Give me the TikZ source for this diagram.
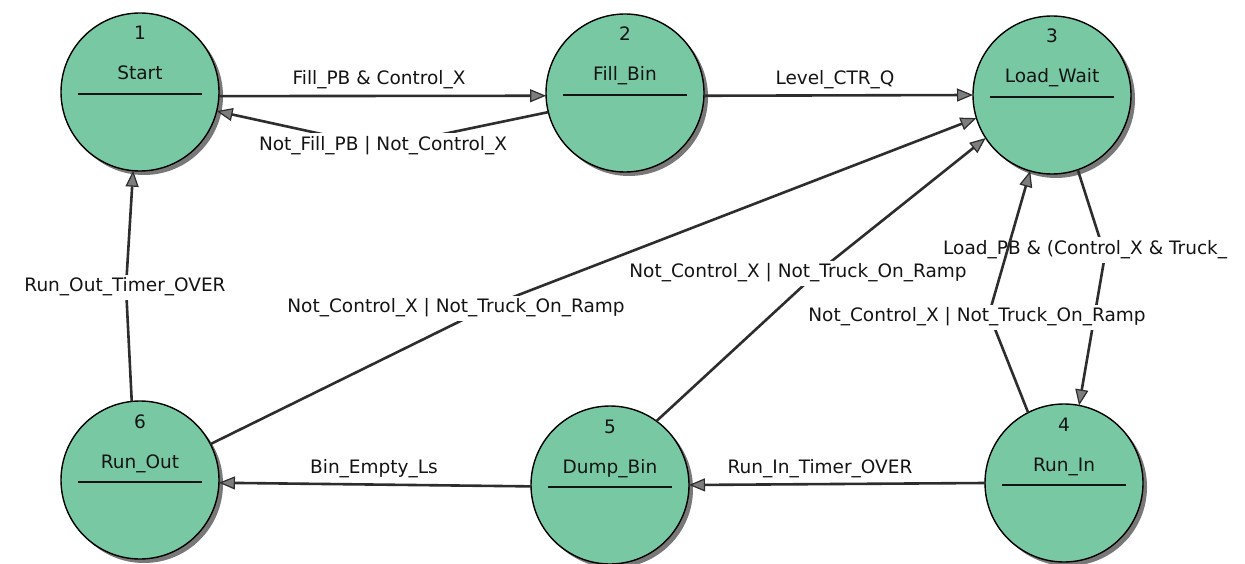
\documentclass[tikz,border=0pt]{standalone}
\usepackage{fontspec}
\setmainfont{DejaVu Sans}
\usetikzlibrary{arrows.meta}
\definecolor{statefill}{RGB}{120,201,163}
\definecolor{edgecol}{RGB}{45,45,45}
\definecolor{shadowcol}{RGB}{120,120,120}
\definecolor{tipfill}{RGB}{125,125,125}
\definecolor{inktext}{RGB}{20,20,20}

% one state: name, x, y, number, title
\newcommand\drawstate[5]{%
  \fill[shadowcol] (#2+4,#3+4) circle (79pt);
  \node[state] (#1) at (#2,#3) {};
  \node[statetext, anchor=base] (#1-num) at ([yshift=52pt]#1.center) {#4};
  \node[statetext, anchor=base] (#1-title) at ([yshift=12pt]#1.center) {#5};
  \draw[line width=1.9pt, draw=inktext] ([xshift=-62pt,yshift=-2pt]#1.center) -- ([xshift=62pt,yshift=-2pt]#1.center);
}

\begin{document}
\begin{tikzpicture}[x=1pt,y=-1pt,
  font=\fontsize{18.5}{22}\selectfont,
  state/.style={circle, draw=black, line width=1.4pt, fill=statefill,
    minimum size=158pt, inner sep=0pt, outer sep=0pt},
  statetext/.style={text=inktext, inner sep=0pt},
  trans/.style={draw=edgecol, line width=2.6pt,
    -{Triangle[length=16pt,width=13pt,fill=tipfill,line width=1.2pt]}},
  lbl/.style={text=inktext, inner xsep=2pt, inner ysep=4pt,
    text height=13pt, text depth=4pt},
  lblw/.style={lbl, fill=white},
]
\useasboundingbox (0,0) rectangle (1245,564);

% states
\drawstate{s1}{140}{92}{1}{Start}
\drawstate{s2}{625}{93}{2}{Fill\_Bin}
\drawstate{s3}{1052}{95}{3}{Load\_Wait}
\drawstate{s4}{1064}{483}{4}{Run\_In}
\drawstate{s5}{610}{485}{5}{Dump\_Bin}
\drawstate{s6}{140}{480}{6}{Run\_Out}

% bend points of the routed transitions
\coordinate (b21) at (381,147);
\coordinate (b34) at (1105,255);
\coordinate (b43) at (989,314);
\coordinate (b53) at (818,272);
\coordinate (b63) at (495,304);
\coordinate (b61) at (126,287);

% straight transitions
\draw[trans] (s1.-3) -- (s2.182);
\draw[trans] (s2.-2) -- (s3.180);
\draw[trans] (s4.180) -- (s5.0);
\draw[trans] (s5.181) -- (s6.-2);

% routed transitions
\draw[trans] (s2.194) -- (b21) -- (s1.-14);
\draw[trans] (s3.-71) -- (b34) -- (s4.79);
\draw[trans] (s5.54) -- (b53) -- (s3.213);
\draw[trans] (s6.27) -- (b63) -- (s3.197);
\draw[trans] (s6.96) -- (b61) -- (s1.265);

% transition labels
\node[lbl] (l12) at (379,80) {Fill\_PB \& Control\_X};
\node[lbl] (l23) at (835,80) {Level\_CTR\_Q};
\node[lbl] (l45) at (820,469) {Run\_In\_Timer\_OVER};
\node[lbl] (l56) at (374,469) {Bin\_Empty\_Ls};
\node[lblw] (l21) at (383,146) {Not\_Fill\_PB | Not\_Control\_X};
\node[lblw, anchor=west] (l34) at (941,250) {Load\_PB \& (Control\_X \& Truck\_};
\node[lblw] (l53) at (798,273) {Not\_Control\_X | Not\_Truck\_On\_Ramp};
\node[lblw] (l63) at (456,308) {Not\_Control\_X | Not\_Truck\_On\_Ramp};
\node[lblw] (l61) at (125,287) {Run\_Out\_Timer\_OVER};

% return from Run_In crosses the Load_PB label
\draw[trans] (s4.117) -- (b43) -- (s3.254);
\node[lblw] (l43) at (977,317) {Not\_Control\_X | Not\_Truck\_On\_Ramp};
\end{tikzpicture}
\end{document}
